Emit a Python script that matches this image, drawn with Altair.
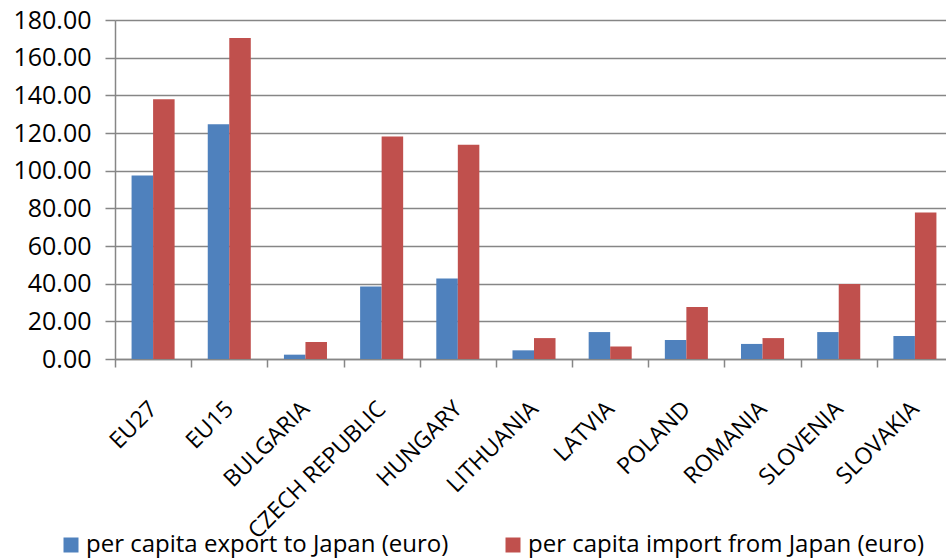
import altair as alt
import pandas as pd

categories = ["EU27", "EU15", "BULGARIA", "CZECH REPUBLIC", "HUNGARY", "LITHUANIA",
              "LATVIA", "POLAND", "ROMANIA", "SLOVENIA", "SLOVAKIA"]
export_vals = [97.4, 124.7, 2.3, 38.5, 42.8, 4.6, 14.3, 10.1, 8.0, 14.3, 12.2]
import_vals = [137.9, 170.5, 9.0, 118.1, 113.7, 11.1, 6.7, 27.6, 11.1, 39.8, 77.8]
series = ["per capita export to Japan (euro)", "per capita import from Japan (euro)"]
colors = ["#4F81BD", "#C0504D"]

rows = []
for c, e, i in zip(categories, export_vals, import_vals):
    rows.append({"country": c, "series": series[0], "value": e})
    rows.append({"country": c, "series": series[1], "value": i})
df = pd.DataFrame(rows)

FONT = "Open Sans"
GRAY = "#868686"

chart = alt.Chart(df).mark_bar().encode(
    x=alt.X("country:N", sort=categories, title=None,
            scale=alt.Scale(paddingInner=0, paddingOuter=0),
            axis=alt.Axis(labelAngle=-45, labelAlign="right", labelBaseline="middle",
                          labelFontSize=23, labelFont=FONT, labelColor="#000000",
                          labelPadding=38, labelLimit=400, tickBand="extent", tickSize=8,
                          tickColor=GRAY, tickWidth=1.5, domainColor=GRAY,
                          domainWidth=1.5, grid=False, labelOverlap=False)),
    xOffset=alt.XOffset("series:N", sort=series,
                        scale=alt.Scale(paddingInner=0, paddingOuter=0.77)),
    y=alt.Y("value:Q", title=None,
            scale=alt.Scale(domain=[0, 180], nice=False),
            axis=alt.Axis(values=list(range(0, 181, 20)), format=".2f",
                          labelFontSize=25, labelFont=FONT, labelColor="#000000",
                          labelPadding=14, tickSize=10, tickColor=GRAY, tickWidth=1.5,
                          domainColor=GRAY, domainWidth=1.5, grid=True,
                          gridColor=GRAY, gridWidth=1.5)),
    color=alt.Color("series:N", sort=series,
                    scale=alt.Scale(domain=series, range=colors),
                    legend=alt.Legend(title=None, orient="none", direction="horizontal",
                                      legendX=-56, legendY=513, padding=0,
                                      symbolType="square",
                                      symbolSize=225, symbolStrokeWidth=0,
                                      labelFontSize=24, labelFont=FONT,
                                      labelColor="#000000", labelOffset=3,
                                      columnPadding=52, labelLimit=500)),
).properties(
    width=838, height=339,
    autosize=alt.AutoSizeParams(type="none"),
    padding={"left": 115, "top": 20, "right": -7, "bottom": 201},
).configure_view(stroke=None).configure(background="white")

chart.save("out.html", embed_options={"renderer": "svg", "actions": False})
